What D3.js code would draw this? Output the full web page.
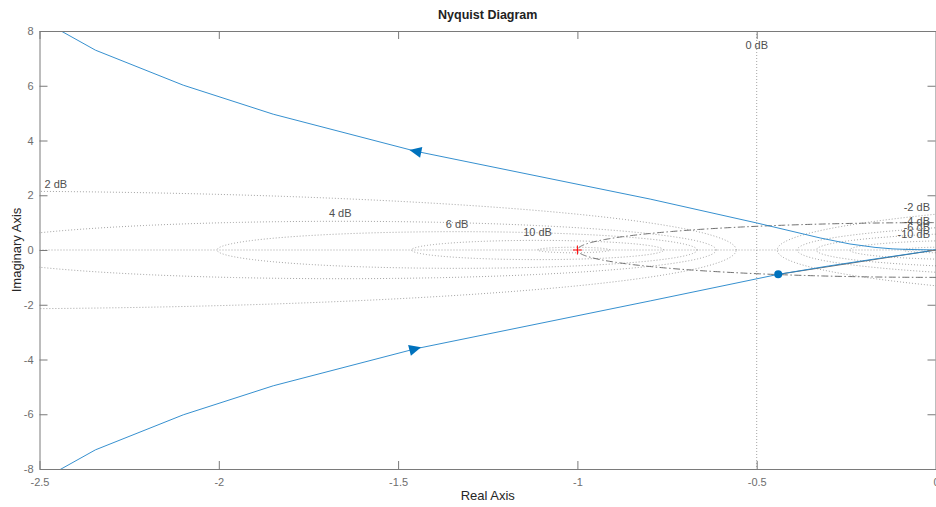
<!DOCTYPE html>
<html><head><meta charset="utf-8">
<script src="https://cdn.jsdelivr.net/npm/d3@7"></script>
<style>
html,body{margin:0;padding:0;background:#fff;}
svg{display:block;font-family:"Liberation Sans",Arial,Helvetica,sans-serif;}
</style></head>
<body>
<svg id="chart" width="936" height="507"></svg>
<script>
// ---- data ----
const xTicks = [-2.5, -2, -1.5, -1, -0.5, 0];
const yTicks = [-8, -6, -4, -2, 0, 2, 4, 6, 8];
const mCircleDb = [-20, -10, -6, -4, -2, 0, 2, 4, 6, 10, 20];
const labeledDb = [-10, -6, -4, -2, 0, 2, 4, 6, 10];
// upper branch (negative frequencies), ordered in direction of travel: origin -> outward
const upperRe = [0, -0.072, -0.120, -0.170, -0.240, -0.323, -0.499, -0.797, -1.452, -1.848, -2.099, -2.344, -2.474];
const upperIm = [0, 0.018, 0.040, 0.095, 0.22, 0.44, 0.985, 1.86, 3.61, 4.96, 6.02, 7.30, 8.25];
// lower branch (positive frequencies), ordered: outward -> origin
const lowerRe = [-2.474, -2.344, -2.099, -1.848, -1.452, -0.797, -0.44, -0.30, -0.15, 0];
const lowerIm = [-8.25, -7.30, -6.02, -4.96, -3.61, -1.86, -0.89, -0.585, -0.288, 0];
const arrowRe = [-1.452, -1.452];
const arrowIm = [3.61, -3.61];
const crossRe = -0.44, crossIm = -0.89;   // gain crossover point
const critRe = -1, critIm = 0;            // critical point

// ---- layout ----
const svg = d3.select("#chart");
const L = 39.5, R = 936, T = 31, B = 469;
const x = d3.scaleLinear().domain([-2.5, 0]).range([L, R]);
const y = d3.scaleLinear().domain([-8, 8]).range([B, T]);
const axisCol = "#7a7a7a", gridCol = "#8c8c8c";

svg.append("defs").append("clipPath").attr("id", "clip")
  .append("rect").attr("x", L).attr("y", T).attr("width", R - L).attr("height", B - T);
const plot = svg.append("g").attr("clip-path", "url(#clip)");

// ---- M-circles grid ----
const line = d3.line().x(d => x(d[0])).y(d => y(d[1]));
const angles = d3.range(0, 721).map(i => i / 720 * 2 * Math.PI);
function circ(db) {
  const M = Math.pow(10, db / 20), M2 = M * M;
  return { c: -M2 / (M2 - 1), r: Math.abs(M / (M2 - 1)) };
}
mCircleDb.forEach(db => {
  if (db === 0) {
    plot.append("line").attr("x1", x(-0.5)).attr("x2", x(-0.5)).attr("y1", T).attr("y2", B)
      .attr("stroke", gridCol).attr("stroke-width", 0.8).attr("stroke-dasharray", "1,2");
  } else {
    const { c, r } = circ(db);
    const pts = angles.map(a => [c + r * Math.cos(a), r * Math.sin(a)]);
    plot.append("path").attr("d", line(pts)).attr("fill", "none")
      .attr("stroke", gridCol).attr("stroke-width", 0.8).attr("stroke-dasharray", "1,2");
  }
});
// real axis dotted
plot.append("line").attr("x1", L).attr("x2", R).attr("y1", y(0)).attr("y2", y(0))
  .attr("stroke", gridCol).attr("stroke-width", 0.8).attr("stroke-dasharray", "1,2");

// labels
labeledDb.forEach(db => {
  const t = svg.append("text").text(db + " dB").attr("font-size", 11).attr("fill", "#505050");
  if (db === 0) {
    t.attr("x", x(-0.5)).attr("y", T + 18).attr("text-anchor", "middle");
  } else {
    const { c, r } = circ(db);
    if (db > 0) {
      if (c >= -2.5) {
        t.attr("x", x(c)).attr("y", y(r) - 4).attr("text-anchor", "middle");
      } else {
        const yy = Math.sqrt(r * r - (-2.5 - c) * (-2.5 - c));
        t.attr("x", L + 5).attr("y", y(yy) - 3).attr("text-anchor", "start");
      }
    } else {
      const yy = Math.sqrt(r * r - c * c);
      t.attr("x", R - 6).attr("y", y(yy) - 3).attr("text-anchor", "end");
    }
  }
});

// unit circle (dash-dot)
const uc = angles.map(a => [Math.cos(a), Math.sin(a)]);
plot.append("path").attr("d", line(uc)).attr("fill", "none")
  .attr("stroke", "#707070").attr("stroke-width", 1).attr("stroke-dasharray", "7,2.5,1.5,2.5");
// phase margin line
plot.append("line").attr("x1", x(0)).attr("y1", y(0)).attr("x2", x(crossRe)).attr("y2", y(crossIm))
  .attr("stroke", "#6e6e6e").attr("stroke-width", 1);

// ---- Nyquist curve ----
const upper = upperRe.map((v, i) => [v, upperIm[i]]);
const lower = lowerRe.map((v, i) => [v, lowerIm[i]]);
const blue = "#0072BD";
[upper, lower].forEach(br => {
  plot.append("path").attr("d", line(br)).attr("fill", "none")
    .attr("stroke", "#1f83c9").attr("stroke-width", 0.9).attr("stroke-linejoin", "round");
});

// arrows
[upper, lower].forEach((br, k) => {
  const ax = arrowRe[k], ay = arrowIm[k];
  let seg = 0;
  for (let i = 0; i < br.length - 1; i++) {
    const a = br[i][0], b = br[i + 1][0];
    if ((ax - a) * (ax - b) <= 0) { seg = i; break; }
  }
  const p0 = [x(br[seg][0]), y(br[seg][1])], p1 = [x(br[seg + 1][0]), y(br[seg + 1][1])];
  const ang = Math.atan2(p1[1] - p0[1], p1[0] - p0[0]) * 180 / Math.PI;
  plot.append("path").attr("d", "M6,0 L-6,-5.5 L-6,5.5 Z").attr("fill", blue)
    .attr("transform", `translate(${x(ax)},${y(ay)}) rotate(${ang})`);
});

// crossover dot
plot.append("circle").attr("cx", x(crossRe)).attr("cy", y(crossIm)).attr("r", 4).attr("fill", blue);
// critical point
const cx0 = x(critRe), cy0 = y(critIm);
plot.append("path").attr("d", `M${cx0 - 4.5},${cy0} H${cx0 + 4.5} M${cx0},${cy0 - 4.5} V${cy0 + 4.5}`)
  .attr("stroke", "#ff0000").attr("stroke-width", 1);

// ---- axes ----
const fmt = d => String(d);
function style(g) {
  g.select(".domain").attr("stroke", axisCol);
  g.selectAll(".tick line").attr("stroke", axisCol);
  g.selectAll(".tick text").attr("fill", "#6e6e6e").attr("font-size", 11)
    .attr("font-family", "Liberation Sans, Arial, sans-serif");
}
svg.append("g").attr("transform", `translate(0,${B})`)
  .call(d3.axisBottom(x).tickValues(xTicks).tickFormat(fmt).tickSizeInner(-8).tickSizeOuter(0).tickPadding(9)).call(style);
svg.append("g").attr("transform", `translate(0,${T})`)
  .call(d3.axisTop(x).tickValues(xTicks).tickFormat("").tickSizeInner(-8).tickSizeOuter(0)).call(style);
svg.append("g").attr("transform", `translate(${L},0)`)
  .call(d3.axisLeft(y).tickValues(yTicks).tickFormat(fmt).tickSizeInner(-8).tickSizeOuter(0).tickPadding(6)).call(style);
svg.append("g").attr("transform", `translate(${R - 0.5},0)`)
  .call(d3.axisRight(y).tickValues(yTicks).tickFormat("").tickSizeInner(-8).tickSizeOuter(0)).call(style);

// ---- titles ----
svg.append("text").attr("x", (L + R) / 2).attr("y", 19).attr("text-anchor", "middle")
  .attr("font-size", 12.5).attr("font-weight", "bold").attr("fill", "#222").text("Nyquist Diagram");
svg.append("text").attr("x", (L + R) / 2).attr("y", 500).attr("text-anchor", "middle")
  .attr("font-size", 13).attr("fill", "#262626").text("Real Axis");
svg.append("text").attr("transform", `translate(21,${(T + B) / 2}) rotate(-90)`).attr("text-anchor", "middle")
  .attr("font-size", 13).attr("fill", "#262626").text("Imaginary Axis");
</script>
</body></html>
